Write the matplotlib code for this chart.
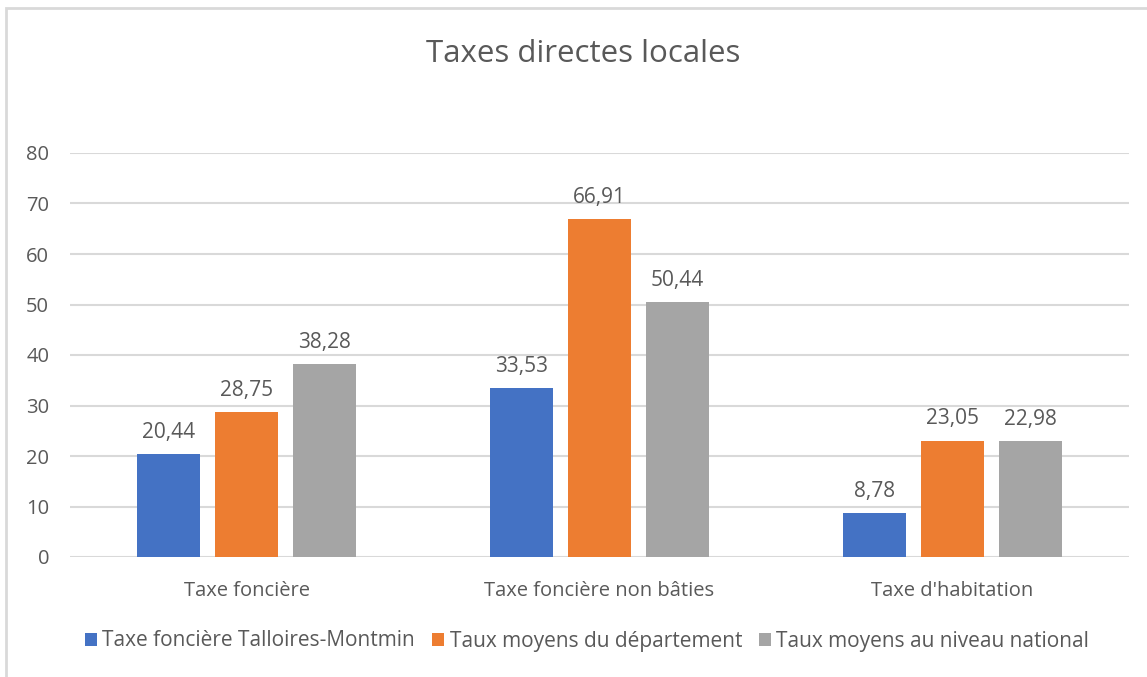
import numpy as np
import matplotlib
matplotlib.use('Agg')
import matplotlib.pyplot as plt
from matplotlib.patches import Rectangle

# data
categories = ['Taxe foncière', 'Taxe foncière non bâties', "Taxe d'habitation"]
series_names = ['Taxe foncière Talloires-Montmin', 'Taux moyens du département',
                'Taux moyens au niveau national']
talloires = [20.44, 33.53, 8.78]
departement = [28.75, 66.91, 23.05]
national = [38.28, 50.44, 22.98]
yticks = [0, 10, 20, 30, 40, 50, 60, 70, 80]

colors = ['#4472C4', '#ED7D31', '#A5A5A5']
text_color = '#595959'
plt.rcParams['font.family'] = ['Open Sans', 'DejaVu Sans']

fig = plt.figure(figsize=(11.47, 6.77), dpi=100)
ax = fig.add_axes([70 / 1147, 1 - 557 / 677, 1059 / 1147, 404 / 677])

# chart frame like the Excel border
fig.patches.append(Rectangle((6 / 1147, -0.05), 1.1, 1 - 8 / 677 + 0.05,
                             transform=fig.transFigure, fill=False,
                             edgecolor='#D9D9D9', linewidth=2, zorder=0))

x = np.arange(len(categories))
width = 0.176
offset = 0.221
for i, (vals, name) in enumerate(zip([talloires, departement, national], series_names)):
    bars = ax.bar(x + (i - 1) * offset, vals, width, color=colors[i], label=name, zorder=3)
    for b, v in zip(bars, vals):
        ax.annotate(f'{v:.2f}'.replace('.', ','),
                    (b.get_x() + b.get_width() / 2, v),
                    xytext=(0, 8), textcoords='offset points',
                    ha='center', va='bottom', fontsize=15, color=text_color)

ax.set_xlim(-0.5, 2.5)
ax.set_ylim(0, 80)
ax.set_yticks(yticks)
ax.set_xticks(x)
ax.set_xticklabels(categories)
ax.grid(axis='y', color='#D9D9D9', linewidth=1.5, zorder=0)
ax.set_axisbelow(True)
for s in ax.spines.values():
    s.set_visible(False)
ax.tick_params(axis='both', length=0, colors=text_color, labelsize=14.5)
ax.tick_params(axis='y', pad=15)
ax.tick_params(axis='x', pad=17)

fig.text(583 / 1147, 1 - 54 / 677, 'Taxes directes locales', ha='center', va='center',
         fontsize=22.5, color=text_color)

leg = fig.legend(loc='center', bbox_to_anchor=(587 / 1147, 1 - 641 / 677), ncol=3,
                 frameon=False, fontsize=15, handlelength=0.6, handleheight=0.6,
                 handletextpad=0.25, columnspacing=0.8, labelcolor=text_color)

fig.savefig('out.png', dpi=100)
